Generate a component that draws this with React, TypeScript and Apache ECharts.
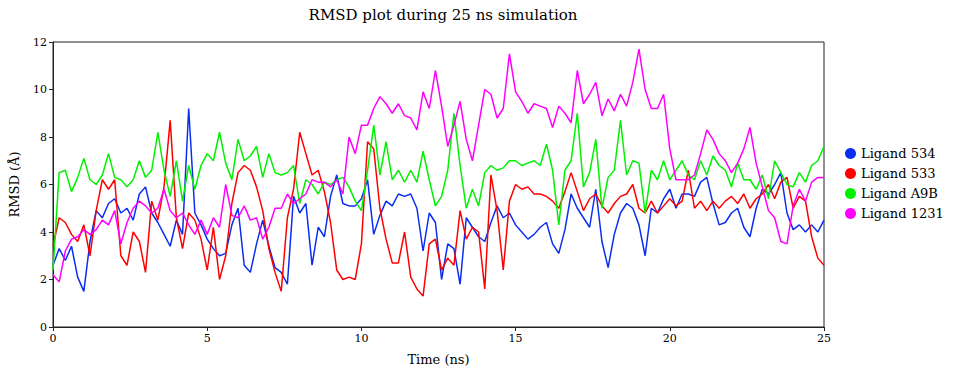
import React, { useEffect, useRef } from "react";
import * as echarts from "echarts";

const timeStep = 0.2; // ns between samples
const seriesNames = ["Ligand 534", "Ligand 533", "Ligand A9B", "Ligand 1231"];
const seriesColors = ["#0a2ef0", "#ff0000", "#00f000", "#ff00ff"];

const ligand534 = [
  2.6, 3.3, 2.8, 3.4, 2.1, 1.5, 3.6, 4.9, 4.6, 5.2, 5.4, 4.8, 5.0, 4.5, 5.6, 5.9,
  4.8, 4.4, 3.9, 3.4, 4.5, 3.9, 9.2, 4.8, 4.3, 3.7, 3.3, 3.0, 3.1, 4.3, 5.0, 2.6,
  2.3, 3.5, 4.5, 3.4, 2.5, 2.3, 1.8, 5.5, 4.8, 5.2, 2.6, 4.2, 3.8, 5.5, 6.4,
  5.2, 5.1, 5.1, 5.4, 6.2, 3.9, 4.7, 5.3, 5.1, 5.6, 5.5, 5.6, 5.0, 3.2, 4.8, 4.4,
  2.0, 3.5, 3.3, 1.8, 4.6, 4.2, 3.8, 3.6, 4.4, 5.1, 4.6, 4.8, 4.3, 4.0, 3.7,
  3.9, 4.2, 4.4, 3.5, 3.1, 4.1, 5.6, 5.0, 4.6, 4.2, 5.8, 3.6, 2.5, 3.9, 4.8,
  5.2, 5.0, 4.3, 3.0, 5.0, 4.8, 5.4, 5.8, 5.0, 5.6, 5.6, 5.5, 6.1, 6.3, 5.2, 4.3,
  4.4, 4.8, 5.0, 4.2, 3.8, 5.0, 5.8, 5.6, 6.0, 6.5, 4.8, 4.1, 4.3, 4.0, 4.3, 4.0, 4.5,
];

const ligand533 = [
  3.4, 4.6, 4.4, 3.9, 3.6, 4.3, 3.0, 4.9, 6.2, 5.8, 6.2, 3.0, 2.6, 4.0, 3.6, 2.3,
  5.3, 4.5, 5.9, 8.7, 4.6, 3.3, 4.8, 4.5, 3.7, 2.4, 4.2, 2.0, 3.0, 5.2, 6.5, 6.8,
  6.6, 5.9, 4.9, 3.3, 2.3, 1.5, 4.6, 5.8, 8.2, 7.3, 6.4, 6.6, 5.7, 4.4, 2.4,
  2.0, 2.1, 2.0, 3.5, 7.8, 7.5, 5.0, 3.7, 2.7, 2.7, 4.0, 2.1, 1.6, 1.3, 3.5, 3.7,
  2.4, 2.9, 2.6, 4.9, 3.7, 4.2, 4.0, 1.6, 6.4, 4.9, 2.4, 5.3, 6.0, 5.8, 5.9,
  5.6, 5.6, 5.5, 5.3, 5.0, 5.7, 6.5, 5.7, 4.9, 5.4, 5.6, 5.1, 4.8, 5.2, 5.5,
  5.6, 6.0, 5.0, 4.8, 5.3, 4.8, 5.1, 5.4, 5.1, 5.3, 6.6, 5.0, 5.3, 4.9, 5.3, 5.0,
  5.3, 5.5, 5.2, 5.6, 5.0, 5.4, 5.6, 6.0, 5.4, 6.1, 6.3, 5.0, 5.5, 5.3, 3.8, 2.9, 2.6,
];

const ligandA9B = [
  2.4, 6.5, 6.6, 5.7, 6.3, 7.1, 6.2, 6.0, 6.4, 7.3, 6.3, 6.2, 5.9, 6.2, 7.0, 6.3,
  6.6, 8.2, 6.6, 5.5, 7.0, 5.3, 6.8, 5.8, 6.8, 7.3, 7.0, 8.2, 6.9, 6.2, 7.9, 7.0,
  7.2, 7.6, 6.3, 7.3, 6.5, 6.4, 6.5, 6.8, 5.2, 6.2, 6.0, 5.6, 6.1, 6.0, 6.2,
  6.3, 5.9, 5.3, 4.9, 6.6, 8.5, 6.4, 7.8, 6.2, 6.6, 6.1, 6.6, 6.1, 7.4, 6.2, 5.1,
  5.5, 6.6, 9.0, 6.8, 5.0, 5.8, 5.1, 6.5, 6.8, 6.6, 6.7, 7.0, 7.0, 6.8, 6.9,
  7.0, 6.8, 7.7, 6.6, 4.3, 6.6, 7.0, 9.0, 5.9, 6.5, 7.9, 5.0, 6.3, 6.6, 8.7,
  6.4, 7.0, 6.9, 4.8, 6.6, 6.2, 7.0, 6.2, 6.6, 7.0, 6.4, 6.2, 7.0, 6.4, 7.2, 6.8,
  6.6, 5.9, 6.9, 6.2, 6.2, 5.8, 6.4, 5.4, 7.0, 6.5, 6.0, 5.9, 6.5, 6.1, 6.8, 7.0, 7.6,
];

const ligand1231 = [
  2.2, 1.9, 3.2, 3.7, 3.8, 4.1, 3.9, 4.1, 4.5, 4.3, 4.9, 3.5, 4.4, 5.0, 5.3, 5.1,
  4.8, 5.0, 5.8, 4.9, 4.6, 4.8, 4.3, 3.9, 4.5, 3.9, 4.6, 4.2, 6.0, 4.7, 4.6, 5.1,
  4.5, 4.6, 3.7, 4.2, 5.0, 5.0, 5.6, 5.2, 5.4, 5.6, 6.2, 6.1, 6.1, 5.9, 6.2,
  5.6, 8.0, 7.3, 8.5, 8.5, 9.2, 9.7, 9.4, 9.0, 9.4, 8.9, 8.8, 8.3, 9.9, 9.2, 10.8,
  9.3, 7.6, 8.5, 9.5, 7.9, 7.0, 8.5, 10.0, 9.8, 8.8, 9.2, 11.5, 9.9, 9.5, 9.0,
  9.4, 9.3, 9.2, 8.4, 9.3, 9.0, 8.6, 10.8, 9.4, 9.8, 10.3, 8.9, 9.6, 9.1, 9.8,
  9.3, 10.3, 11.7, 10.0, 9.2, 9.2, 9.8, 7.5, 6.2, 6.2, 6.2, 6.4, 7.3, 8.3, 7.9, 7.3,
  7.0, 6.5, 6.9, 7.5, 8.4, 6.9, 5.9, 4.9, 4.6, 3.6, 3.5, 5.1, 5.8, 5.3, 6.1, 6.3, 6.3,
];

const allSeries = [ligand534, ligand533, ligandA9B, ligand1231];

const FONT = "DejaVu Serif";

export default function App() {
  const ref = useRef<HTMLDivElement>(null);
  useEffect(() => {
    document.body.style.margin = "0";
    if (!ref.current) return;
    const chart = echarts.init(ref.current, null, { renderer: "svg" });
    chart.setOption({
      animation: false,
      backgroundColor: "#ffffff",
      title: {
        text: "RMSD plot during 25 ns simulation",
        left: 438,
        top: 2,
        textAlign: "center",
        textStyle: { fontFamily: FONT, fontSize: 15, fontWeight: "normal", color: "#000" },
      },
      legend: {
        orient: "vertical",
        left: 840,
        top: 142,
        icon: "circle",
        itemWidth: 11,
        itemHeight: 11,
        itemGap: 7,
        textStyle: { fontFamily: FONT, fontSize: 13, color: "#000" },
        data: seriesNames,
      },
      grid: {
        left: 52,
        top: 42,
        width: 772,
        height: 285,
        show: true,
        borderColor: "#222",
        borderWidth: 1,
        backgroundColor: "transparent",
      },
      xAxis: {
        type: "value",
        min: 0,
        max: 25,
        interval: 5,
        name: "Time (ns)",
        nameLocation: "middle",
        nameGap: 26,
        nameTextStyle: { fontFamily: FONT, fontSize: 13, color: "#000" },
        axisLine: { show: true, lineStyle: { color: "#222", width: 1 } },
        axisTick: { show: true, inside: false, length: 4, lineStyle: { color: "#222" } },
        axisLabel: { fontFamily: FONT, fontSize: 11, color: "#000", margin: 6 },
        splitLine: { show: false },
      },
      yAxis: {
        type: "value",
        min: 0,
        max: 12,
        interval: 2,
        name: "RMSD (Å)",
        nameLocation: "middle",
        nameGap: 32,
        nameTextStyle: { fontFamily: FONT, fontSize: 13, color: "#000" },
        axisLine: { show: true, lineStyle: { color: "#222", width: 1 } },
        axisTick: { show: true, inside: false, length: 4, lineStyle: { color: "#222" } },
        axisLabel: { fontFamily: FONT, fontSize: 11, color: "#000", margin: 6 },
        splitLine: { show: false },
      },
      series: allSeries.map((vals, si) => ({
        name: seriesNames[si],
        type: "line",
        showSymbol: false,
        symbol: "circle",
        color: seriesColors[si],
        lineStyle: { width: 1.5, color: seriesColors[si] },
        data: vals.map((v, i) => [Math.round(i * timeStep * 10) / 10, v]),
      })),
    });
    return () => chart.dispose();
  }, []);
  return <div ref={ref} style={{ width: 960, height: 374 }} />;
}
